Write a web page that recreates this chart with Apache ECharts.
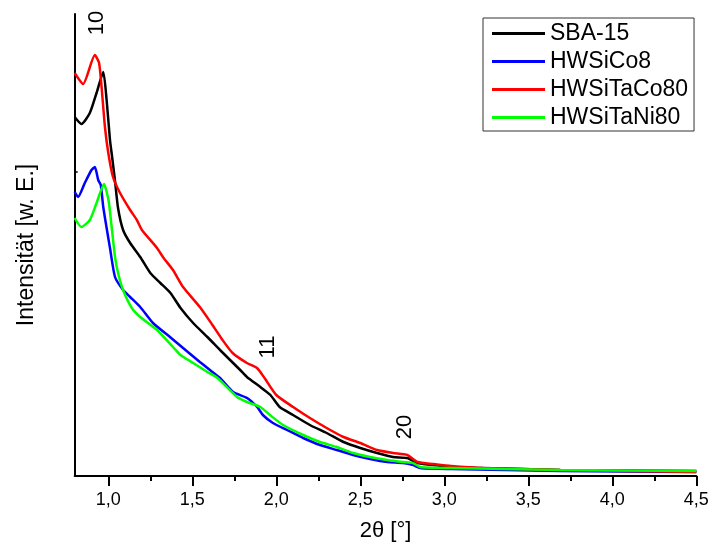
<!DOCTYPE html>
<html>
<head>
<meta charset="utf-8">
<script src="https://cdn.jsdelivr.net/npm/echarts@6/dist/echarts.min.js"></script>
<style>html,body{margin:0;padding:0;background:#fff}#c{width:712px;height:547px}</style>
</head>
<body>
<div id="c"></div>
<script>
var seriesNames = ['SBA-15', 'HWSiCo8', 'HWSiTaCo80', 'HWSiTaNi80'];

var sbaX = [0.8,0.84,0.89,0.93,0.97,0.99,1.01,1.022,1.04,1.058,1.088,1.13,1.19,1.25,1.31,1.37,1.43,1.505,1.59,1.665,1.725,1.785,1.825,1.905,1.965,2.02,2.1,2.2,2.3,2.4,2.5,2.6,2.695,2.78,2.84,2.935,3.04,3.23,3.69,4.5];
var sbaY = [359,352,363,383,404,376,336,320,295,268,246,233,219,203,193,183,168,153,139,126,116,106,99,89,81,69,61,51,43,34,28,23,19,18,13,11,9,8,6,5];

var coX = [0.8,0.82,0.86,0.9,0.92,0.94,0.955,0.97,0.992,1.01,1.04,1.088,1.13,1.19,1.266,1.367,1.445,1.545,1.605,1.665,1.743,1.826,1.886,1.92,1.98,2.064,2.16,2.26,2.36,2.457,2.558,2.66,2.754,2.814,2.856,3.04,3.69,4.5];
var coY = [284,279,293,306,309,296,291,269,246,228,199,186,179,169,153,139,128,114,106,98,84,78,69,61,53,46,38,31,26,21,17,14,13,11,8,7,5,4];

var taCoX = [0.8,0.85,0.92,0.945,0.96,0.98,1.0,1.028,1.07,1.13,1.17,1.2,1.29,1.325,1.385,1.445,1.545,1.62,1.68,1.74,1.825,1.885,1.93,2.0,2.1,2.2,2.3,2.4,2.5,2.6,2.695,2.78,2.84,2.935,3.04,3.23,3.69,4.5];
var taCoY = [403,392,421,413,389,349,323,299,283,266,256,246,228,219,206,189,169,151,136,123,113,108,98,81,69,58,48,39,33,26,23,21,14,12,10,8,6,4];

var taNiX = [0.8,0.84,0.89,0.93,0.975,0.992,1.004,1.02,1.04,1.058,1.088,1.14,1.19,1.29,1.385,1.43,1.505,1.59,1.65,1.766,1.826,1.905,1.962,2.04,2.16,2.26,2.36,2.457,2.558,2.66,2.754,2.814,2.856,3.04,3.69,4.5];
var taNiY = [258,249,256,273,292,283,273,249,219,203,186,168,159,146,129,121,113,104,98,79,74,69,61,51,41,34,29,23,19,16,14,13,9,8,6,5];

var xMajorTicks = [1.0,1.5,2.0,2.5,3.0,3.5,4.0,4.5];
var xMinorTicks = [1.25,1.75,2.25,2.75,3.25,3.75,4.25];
var yTicks = [304];

var annoLabels = ['10','11','20'];
var annoX = [0.935,1.951,2.767];
var annoY = [453,129,49];

function zip(xs, ys){ return xs.map(function(x,i){ return [x, ys[i]]; }); }

var colors = ['#000000','#0000ff','#ff0000','#00ff00'];
var datasets = [zip(sbaX,sbaY), zip(coX,coY), zip(taCoX,taCoY), zip(taNiX,taNiY)];
var FONT = 'Liberation Sans, Arial, sans-serif';

var series = seriesNames.map(function(n,i){
  return {
    name: n, type: 'line', data: datasets[i], symbol: 'none', showSymbol: false,
    smooth: 0.2, xAxisIndex: 0, yAxisIndex: 0,
    lineStyle: {color: colors[i], width: 2.5}, itemStyle: {color: colors[i]},
    z: 3 + i, animation: false
  };
});
series[0].markPoint = {
  symbol: 'circle', symbolSize: 0, animation: false,
  data: annoLabels.map(function(t,i){
    return {coord: [annoX[i], annoY[i]], value: t,
      label: {show: true, position: 'inside', rotate: 90, formatter: t,
        fontSize: 22, color: '#000', fontFamily: FONT}};
  })
};

var chart = echarts.init(document.getElementById('c'), null, {renderer: 'canvas'});
chart.setOption({
  animation: false,
  backgroundColor: '#fff',
  grid: {left: 74.7, right: 15.7, top: 14, bottom: 71, containLabel: false},
  legend: {
    orient: 'vertical', left: 483, top: 18,
    data: seriesNames.map(function(n){ return {name: n, icon: 'rect'}; }),
    itemWidth: 53, itemHeight: 3, itemGap: 5,
    padding: [4, 6, 2, 9],
    borderColor: '#333', borderWidth: 1,
    textStyle: {fontSize: 23, fontFamily: FONT, color: '#000'}
  },
  xAxis: [{
    type: 'value', min: 0.8, max: 4.5, position: 'bottom',
    name: '2\u03b8 [\u00b0]', nameLocation: 'middle', nameGap: 44,
    nameTextStyle: {fontSize: 22, fontFamily: FONT, color: '#000'},
    axisLine: {show: true, onZero: false, lineStyle: {color: '#000', width: 2}},
    axisTick: {show: true, inside: false, length: 10, customValues: xMajorTicks, lineStyle: {color: '#000', width: 2}},
    axisLabel: {show: true, margin: 15, fontSize: 18, fontFamily: FONT, color: '#000', customValues: xMajorTicks,
      formatter: function(v){ return v.toFixed(1).replace('.', ','); }},
    splitLine: {show: false}
  }, {
    type: 'value', min: 0.8, max: 4.5, position: 'bottom', offset: 0, gridIndex: 0,
    axisLine: {show: false},
    axisTick: {show: true, inside: false, length: 5, customValues: xMinorTicks, lineStyle: {color: '#000', width: 2}},
    axisLabel: {show: false},
    splitLine: {show: false}
  }],
  yAxis: {
    type: 'value', min: 0, max: 462,
    name: 'Intensit\u00e4t [w. E.]', nameLocation: 'middle', nameGap: 37,
    nameTextStyle: {fontSize: 23, fontFamily: FONT, color: '#000'},
    axisLine: {show: true, onZero: false, lineStyle: {color: '#000', width: 2}},
    axisTick: {show: true, inside: true, length: 3, customValues: yTicks, lineStyle: {color: '#000', width: 1.5}},
    axisLabel: {show: false},
    splitLine: {show: false}
  },
  series: series
});
</script>
</body>
</html>
